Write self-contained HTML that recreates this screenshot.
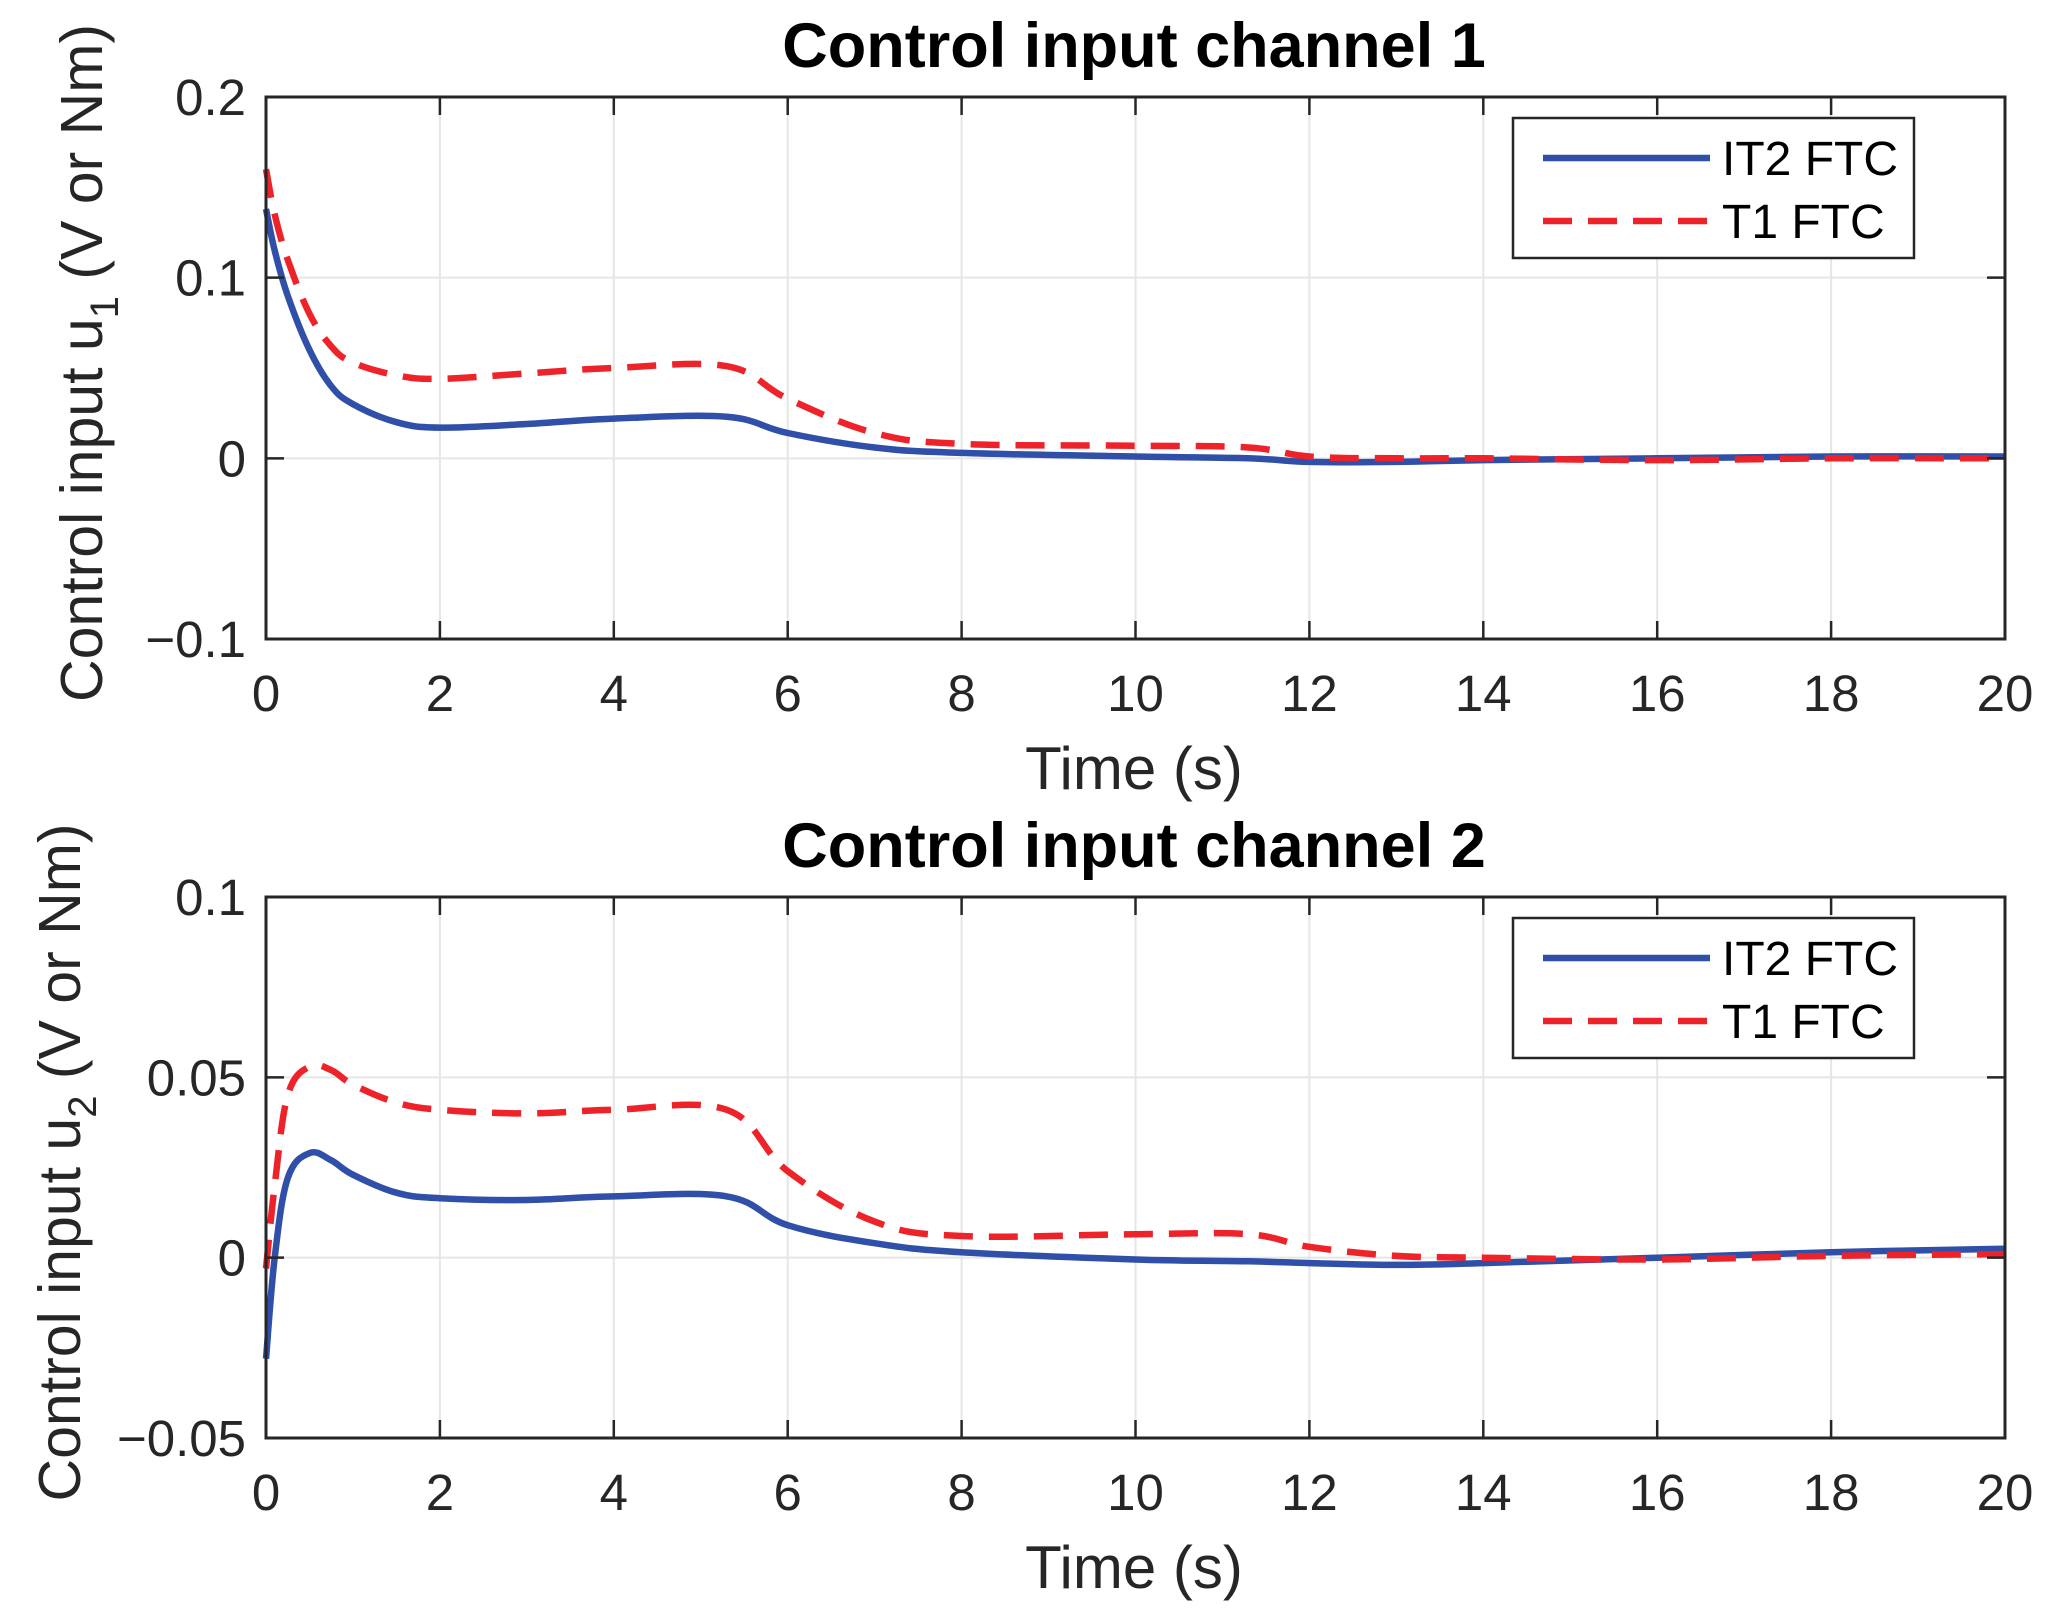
<!DOCTYPE html>
<html><head><meta charset="utf-8"><style>
html,body{margin:0;padding:0;background:#fff;}
svg{display:block;font-family:"Liberation Sans",Arial,sans-serif;}
</style></head><body>
<svg id="fig" width="2054" height="1620" viewBox="0 0 2054 1620" xmlns="http://www.w3.org/2000/svg"></svg>
<script>
const tVals=[0,0.1,0.25,0.5,0.75,1,1.5,2,3,4,5.3,6,7,8,10,11.3,12,13,14,16,18,20];
const it2u1=[0.138,0.115,0.09,0.06,0.04,0.03,0.02,0.017,0.019,0.022,0.023,0.014,0.006,0.003,0.001,0,-0.002,-0.002,-0.001,0,0.001,0.001];
const t1u1=[0.16,0.135,0.11,0.08,0.062,0.053,0.046,0.044,0.047,0.05,0.051,0.033,0.014,0.008,0.007,0.006,0.001,0,0,-0.001,0,0];
const it2u2=[-0.028,0,0.022,0.029,0.027,0.023,0.018,0.0165,0.016,0.017,0.017,0.009,0.004,0.0015,-0.0005,-0.001,-0.0015,-0.002,-0.0015,0,0.0015,0.0025];
const t1u2=[-0.003,0.02,0.045,0.053,0.052,0.048,0.043,0.041,0.040,0.041,0.041,0.024,0.01,0.006,0.0065,0.0065,0.003,0.0005,0,-0.0005,0.0005,0.001];
const xTicks=[0,2,4,6,8,10,12,14,16,18,20];
const yTicks1=[-0.1,0,0.1,0.2];
const yTickLabels1=["\u22120.1","0","0.1","0.2"];
const yTicks2=[-0.05,0,0.05,0.1];
const yTickLabels2=["\u22120.05","0","0.05","0.1"];
const legendLabels=["IT2 FTC","T1 FTC"];

const NS="http://www.w3.org/2000/svg";
const svg=document.getElementById('fig');
function mk(tag,attrs,parent,text){const e=document.createElementNS(NS,tag);for(const k in attrs)e.setAttribute(k,attrs[k]);if(text!==undefined)e.textContent=text;(parent||svg).appendChild(e);return e;}
function smoothPath(P){
  let d='M'+P[0][0].toFixed(1)+','+P[0][1].toFixed(1);
  for(let i=0;i<P.length-1;i++){
    const p0=P[Math.max(i-1,0)],p1=P[i],p2=P[i+1],p3=P[Math.min(i+2,P.length-1)];
    const t=0.18;
    const c1=[p1[0]+(p2[0]-p0[0])*t,p1[1]+(p2[1]-p0[1])*t];
    const c2=[p2[0]-(p3[0]-p1[0])*t,p2[1]-(p3[1]-p1[1])*t];
    d+=' C'+c1[0].toFixed(1)+','+c1[1].toFixed(1)+' '+c2[0].toFixed(1)+','+c2[1].toFixed(1)+' '+p2[0].toFixed(1)+','+p2[1].toFixed(1);
  }
  return d;
}

function panel(idx,top,bottom,ymin,ymax,yt,ytl,title,sub,s1,s2,ylx){
  const L=266,R=2005;
  const g=mk('g',{});
  
  
  const X=t=>L+(t-0)/(20-0)*(R-L);
  const Y=v=>bottom-(v-ymin)/(ymax-ymin)*(bottom-top);
  xTicks.forEach(t=>{const l=mk('line',{x1:X(t),x2:X(t),y1:top,y2:bottom,stroke:'#e6e6e6','stroke-width':2},g);});
  yt.forEach(v=>{const l=mk('line',{x1:L,x2:R,y1:Y(v),y2:Y(v),stroke:'#e6e6e6','stroke-width':2},g);});
  function line(data,color,dash,name){
    const P=tVals.map((t,i)=>[X(t),Y(data[i])]);
    const p=mk('path',{d:smoothPath(P),fill:'none',stroke:color,'stroke-width':6.5,'stroke-linejoin':'round','stroke-dasharray':dash?'29 16':'none'},g);
    
    
  }
  line(s1,'#2f4fa8',false,'it2-ftc-line');
  line(s2,'#ee2229',true,'t1-ftc-line');
  const box=mk('rect',{x:L,y:top,width:R-L,height:bottom-top,fill:'none',stroke:'#262626','stroke-width':3},g);
  
  xTicks.forEach(t=>{
    mk('line',{x1:X(t),x2:X(t),y1:bottom,y2:bottom-18,stroke:'#262626','stroke-width':2.5},g);
    mk('line',{x1:X(t),x2:X(t),y1:top,y2:top+18,stroke:'#262626','stroke-width':2.5},g);
    const tx=mk('text',{x:X(t),y:bottom+72,'text-anchor':'middle','font-size':51,fill:'#262626'},g,String(t));
    
  });
  yt.forEach((v,i)=>{
    mk('line',{x1:L,x2:L+18,y1:Y(v),y2:Y(v),stroke:'#262626','stroke-width':2.5},g);
    mk('line',{x1:R,x2:R-18,y1:Y(v),y2:Y(v),stroke:'#262626','stroke-width':2.5},g);
    const tx=mk('text',{x:L-20,y:Y(v)+18,'text-anchor':'end','font-size':51,fill:'#262626'},g,ytl[i]);
    
  });
  const ti=mk('text',{x:1134,y:top-30,'text-anchor':'middle','font-size':63,'font-weight':'bold',fill:'#000'},g,title);
  
  const xl=mk('text',{x:1134,y:bottom+150,'text-anchor':'middle','font-size':60,fill:'#262626'},g,'Time (s)');
  
  const cy=(top+bottom)/2-5;
  const yl=mk('text',{x:0,y:0,'text-anchor':'middle','font-size':59,fill:'#262626',transform:`translate(${ylx},${cy}) rotate(-90)`},g);
  
  mk('tspan',{},yl,'Control input u');
  mk('tspan',{'font-size':40,dy:16},yl,sub);
  mk('tspan',{dy:-16},yl,'  (V or Nm)');
  const lg=mk('g',{},g);
  
  const ly=top+21;
  mk('rect',{x:1513,y:ly,width:401,height:140,fill:'#fff',stroke:'#262626','stroke-width':2.5},lg);
  const e1=mk('g',{},lg);
  mk('line',{x1:1543,x2:1710,y1:ly+40,y2:ly+40,stroke:'#2f4fa8','stroke-width':6.5},e1);
  mk('text',{x:1722,y:ly+57,'font-size':48,fill:'#000'},e1,legendLabels[0]);
  const e2=mk('g',{},lg);
  mk('line',{x1:1543,x2:1710,y1:ly+103,y2:ly+103,stroke:'#ee2229','stroke-width':6.5,'stroke-dasharray':'29 16'},e2);
  mk('text',{x:1722,y:ly+120,'font-size':48,fill:'#000'},e2,legendLabels[1]);
}
panel(1,97,639,-0.1,0.2,yTicks1,yTickLabels1,'Control input channel 1','1',it2u1,t1u1,102);
panel(2,897,1438,-0.05,0.1,yTicks2,yTickLabels2,'Control input channel 2','2',it2u2,t1u2,80);
</script>
</body></html>
